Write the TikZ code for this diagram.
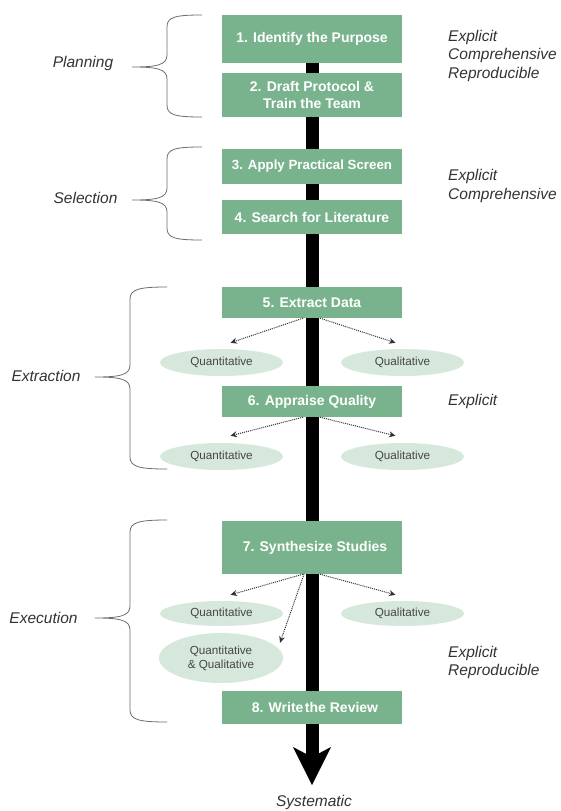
\documentclass[tikz,border=0pt]{standalone}
\usepackage{fontspec}
\setmainfont{Liberation Sans}
\usetikzlibrary{arrows.meta,shapes.geometric}
\definecolor{boxgreen}{RGB}{121,179,141}
\definecolor{ellfill}{RGB}{214,232,219}
\definecolor{labgray}{RGB}{51,51,51}
\definecolor{ellgray}{RGB}{70,70,70}
\definecolor{bracegray}{RGB}{110,110,110}
\pgfdeclarelayer{bg}
\pgfsetlayers{bg,main}
\begin{document}
\begin{tikzpicture}[x=1pt,y=-1pt,
 stepbox/.style={fill=boxgreen, text=white, font=\fontsize{14}{17}\selectfont\bfseries, minimum width=180pt, inner sep=0pt, align=center},
 oval/.style={ellipse, fill=ellfill, text=ellgray, font=\fontsize{11.7}{14}\selectfont, minimum width=123pt, minimum height=27pt, inner sep=0pt, align=center},
 lab/.style={text=labgray, font=\fontsize{15.5}{18.5}\selectfont\itshape, inner sep=0pt, align=left},
 dar/.style={densely dotted, line width=1pt, draw=labgray, -{Stealth[length=6.5pt,width=6pt]}},
 brace/.style={draw=bracegray, line width=0.8pt},
 trunk/.style={line width=13pt, draw=black, -{Stealth[length=38pt,width=38pt,inset=10pt,line width=0pt]}}]
\useasboundingbox (0,0) rectangle (561,811);

% boxes
\node[stepbox, minimum height=48pt] (b1) at (312,39) {1. Identify the Purpose};
\node[stepbox, minimum height=44pt] (b2) at (312,95) {2. Draft Protocol \&\\Train the Team};
\node[stepbox, minimum height=35pt, font=\fontsize{13.3}{16}\selectfont\bfseries] (b3) at (312,166.5) {3. Apply Practical Screen};
\node[stepbox, minimum height=34pt] (b4) at (312,217) {4. Search for Literature};
\node[stepbox, minimum height=31pt] (b5) at (312,302.5) {5. Extract Data};
\node[stepbox, minimum height=31pt] (b6) at (312,401.5) {6. Appraise Quality};
\node[stepbox, minimum height=53pt] (b7) at (312,547.5) {\hspace{6pt}7. Synthesize Studies};
\node[stepbox, minimum height=33pt] (b8) at (312,707.5) {\hspace{6pt}8. Write\hspace{1.5pt}the Review};
\coordinate (tip) at (312,785);

% trunk arrow behind the boxes
\begin{pgfonlayer}{bg}
\fill[white] (0,0) rectangle (561,811);
\draw[trunk] (b1.south) -- (tip);
\end{pgfonlayer}

% ellipses
\node[oval] (q1) at (221.5,362.5) {Quantitative};
\node[oval] (l1) at (402.5,362.5) {Qualitative};
\node[oval] (q2) at (221.5,456.5) {Quantitative};
\node[oval] (l2) at (402.5,456.5) {Qualitative};
\node[oval, minimum height=25pt] (q3) at (221.5,613.5) {Quantitative};
\node[oval, minimum height=25pt] (l3) at (402.5,613.5) {Qualitative};
\node[oval, minimum width=124pt, minimum height=50pt] (qq) at (221,658) {Quantitative\\\& Qualitative};

% dotted arrows
\draw[dar] ([xshift=-9pt]b5.south) -- ([xshift=9pt,yshift=6pt]q1.north);
\draw[dar] ([xshift=8pt]b5.south) -- ([xshift=-7pt,yshift=6pt]l1.north);
\draw[dar] ([xshift=-9pt]b6.south) -- ([xshift=9pt,yshift=7pt]q2.north);
\draw[dar] ([xshift=8pt]b6.south) -- ([xshift=-7pt,yshift=7pt]l2.north);
\draw[dar] ([xshift=-9pt]b7.south) -- ([xshift=9pt,yshift=6pt]q3.north);
\draw[dar] ([xshift=8pt]b7.south) -- ([xshift=-7pt,yshift=6pt]l3.north);
\draw[dar] ([xshift=-8pt]b7.south) -- ([xshift=59pt,yshift=-10pt]qq.north);

% left labels
\node[lab] (plan) at (83,63) {Planning};
\node[lab] (sel) at (85.5,198) {Selection};
\node[lab] (ext) at (46,376) {Extraction};
\node[lab] (exe) at (43.5,618) {Execution};

% braces
\draw[brace] (202,15) .. controls (175,15) and (167,17) .. (167,27) -- (167,55) .. controls (167,65) and (157,67) .. (132,67)
  .. controls (157,67) and (167,69) .. (167,79) -- (167,105) .. controls (167,115) and (175,117) .. (202,117);
\draw[brace] (202,147) .. controls (175,147) and (167,149) .. (167,159) -- (167,188) .. controls (167,198) and (157,200) .. (132,200)
  .. controls (157,200) and (167,202) .. (167,212) -- (167,228) .. controls (167,238) and (175,240) .. (202,240);
\draw[brace] (167,287) .. controls (140,287) and (130,289) .. (130,299) -- (130,365) .. controls (130,375) and (120,377) .. (95,377)
  .. controls (120,377) and (130,379) .. (130,389) -- (130,457) .. controls (130,467) and (140,469) .. (167,469);
\draw[brace] (167,520) .. controls (140,520) and (130,522) .. (130,532) -- (130,606) .. controls (130,616) and (120,618) .. (95,618)
  .. controls (120,618) and (130,620) .. (130,630) -- (130,710) .. controls (130,720) and (140,722) .. (167,722);

% right labels
\node[lab, anchor=west] (r1) at (448,55.5) {Explicit\\Comprehensive\\Reproducible};
\node[lab, anchor=west] (r2) at (448,186) {Explicit\\Comprehensive};
\node[lab, anchor=west] (r3) at (448,401) {Explicit};
\node[lab, anchor=west] (r4) at (448,662.5) {Explicit\\Reproducible};
\node[lab] (sys) at (314,802) {Systematic};
\end{tikzpicture}
\end{document}
